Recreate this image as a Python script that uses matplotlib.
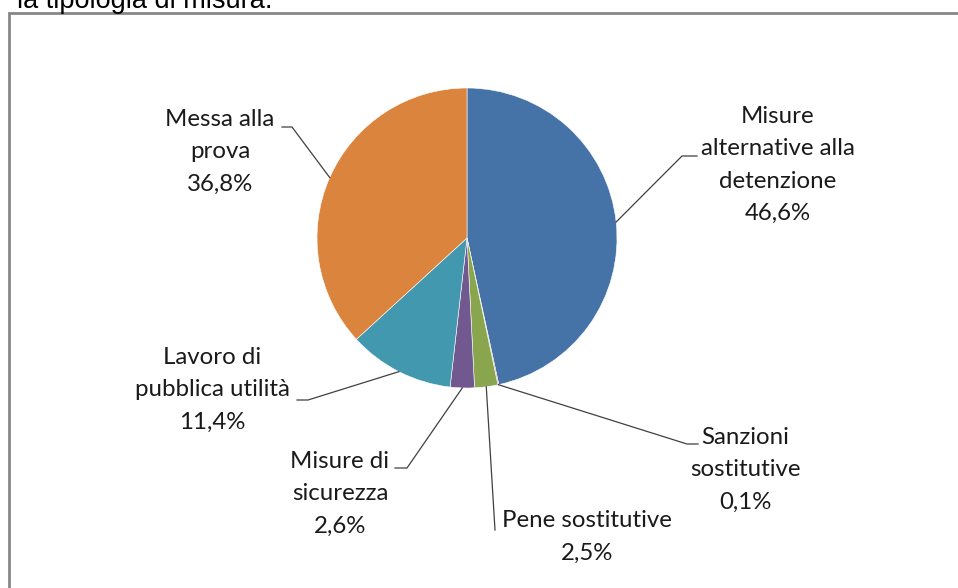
import matplotlib
matplotlib.use("Agg")
import matplotlib.pyplot as plt
import numpy as np

categories = ["Misure\nalternative alla\ndetenzione", "Sanzioni\nsostitutive", "Pene sostitutive",
              "Misure di\nsicurezza", "Lavoro di\npubblica utilità", "Messa alla\nprova"]
values = [46.6, 0.1, 2.5, 2.6, 11.4, 36.8]
pct_labels = ["46,6%", "0,1%", "2,5%", "2,6%", "11,4%", "36,8%"]
colors = ["#4572A7", "#AA4643", "#89A54E", "#71588F", "#4198AF", "#DB843D"]

W, H = 958, 588
fig = plt.figure(figsize=(W / 100, H / 100), dpi=100)
ax = fig.add_axes([0, 0, 1, 1])

def py(y):  # pixel-from-top to data y
    return H - y

cx, cy, R = 467, py(238), 150
wedges, _ = ax.pie(values, colors=colors, startangle=90, counterclock=False,
                   center=(cx, cy), radius=R, frame=True,
                   wedgeprops=dict(edgecolor="white", linewidth=0.4))
ax.set_xlim(0, W)
ax.set_ylim(0, H)
ax.set_aspect("auto")
ax.set_axis_off()

# label layout: (text center x, text center y from top), elbow pt, end pt
label_pos = [(778, 165), (745, 470), (587, 537), (340, 494), (212, 390), (220, 152)]
elbows = [(682, 156), (687, 444), (495, 530), (407, 468), (308, 400), (292, 127)]
ends = [(697, 156), (698, 444), (495, 530), (395, 468), (297, 400), (282, 127)]

font = dict(family=["Lato", "DejaVu Sans"], fontsize=17.3, color="#1a1a1a")
for w, name, pct, (tx, ty), el, en in zip(wedges, categories, pct_labels, label_pos, elbows, ends):
    mid = np.deg2rad((w.theta1 + w.theta2) / 2)
    sx, sy = cx + R * np.cos(mid), cy + R * np.sin(mid)
    ax.plot([sx, el[0], en[0]], [sy, py(el[1]), py(en[1])], color="#404040", lw=0.9)
    ax.text(tx, py(ty), name + "\n" + pct, ha="center", va="center",
            multialignment="center", linespacing=1.68, **font)

# frame
ax.plot([9, 9, W], [0, py(13), py(13)], color="#878787", lw=2, solid_joinstyle="miter")

# title (cut off at the top edge, as in the reference)
ax.text(17, py(7.5), "la tipologia di misura.", ha="left", va="baseline",
        family=["Liberation Sans", "DejaVu Sans"], fontsize=19.5, color="black")

fig.savefig("out.png", dpi=100)
